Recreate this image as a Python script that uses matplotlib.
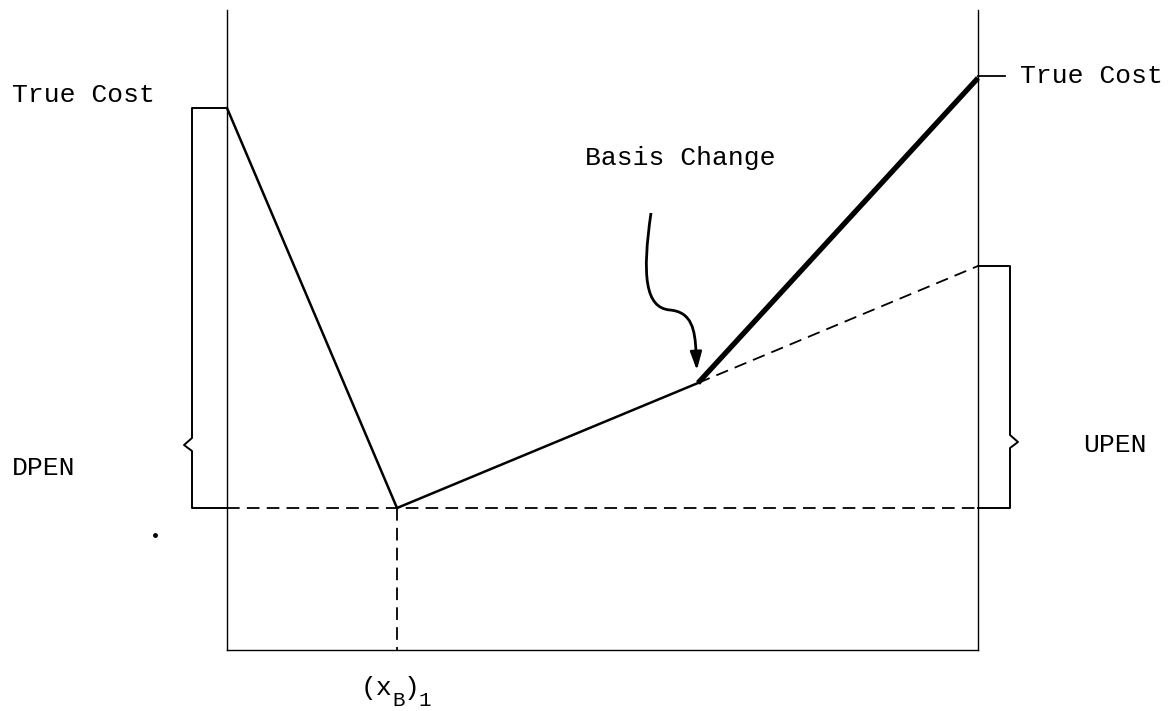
'''
Penalty diagram: true cost vs. DPEN/UPEN around (x_B)_1
'''

import numpy as np
import matplotlib.pyplot as plt
from matplotlib.path import Path
from matplotlib.patches import PathPatch

# frame (pixel-like coordinates, y grows downward)
X_LEFT, X_RIGHT = 227, 978
Y_TOP, Y_BASE, Y_BOTTOM = 10, 508, 650
X_MIN = 397  # (x_B)_1

# cost curve
cost_x = np.array([227, 397, 698])
cost_y = np.array([108, 508, 383])
steep_x = np.array([698, 978])
steep_y = np.array([383, 78])
penal_x = np.array([698, 978])
penal_y = np.array([383, 266])

# braces: (x, top, bottom, notch_y, notch_dir)
left_brace = (192, 108, 508, 445, -1)
right_brace = (1010, 266, 508, 442, 1)

# arrow curve control points
arrow_pts = [(651, 213), (642, 275), (645, 308), (670, 310),
             (692, 312), (695, 330), (696, 352)]
arrow_tip = (697, 373)

mono = 'Liberation Mono'
fs = 19

fig = plt.figure(figsize=(11.68, 7.11), dpi=100)
ax = fig.add_axes([0, 0, 1, 1])
ax.set_xlim(0, 1168)
ax.set_ylim(711, 0)
ax.axis('off')

thin = dict(color='black', lw=1.0)
dash = dict(color='black', lw=1.3, dashes=(7, 4))

# frame
ax.plot([X_LEFT, X_LEFT], [Y_TOP, Y_BOTTOM], **thin)
ax.plot([X_RIGHT, X_RIGHT], [Y_TOP, Y_BOTTOM], **thin)
ax.plot([X_LEFT, X_RIGHT], [Y_BOTTOM, Y_BOTTOM], **thin)
ax.plot([X_LEFT, X_RIGHT], [Y_BASE, Y_BASE], **dash)
ax.plot([X_MIN, X_MIN], [Y_BASE, Y_BOTTOM], **dash)

# cost lines
ax.plot(cost_x, cost_y, color='black', lw=1.8, solid_joinstyle='miter')
ax.plot(steep_x, steep_y, color='black', lw=3.8, solid_capstyle='butt')
ax.plot(penal_x, penal_y, **dash)
ax.plot([X_RIGHT, 1005], [76, 76], color='black', lw=1.3)

# braces
for bx, top, bot, ny, d in (left_brace, right_brace):
    edge = X_LEFT if d < 0 else X_RIGHT
    ax.plot([edge, bx, bx, bx + 8 * d, bx, bx, edge],
            [top, top, ny - 7, ny, ny + 6, bot, bot],
            color='black', lw=1.4)

# wavy arrow
codes = [Path.MOVETO] + [Path.CURVE4] * 6
ax.add_patch(PathPatch(Path(arrow_pts, codes), fill=False, lw=2.0, color='black'))
ax.annotate('', xy=arrow_tip, xytext=arrow_pts[-1],
            arrowprops=dict(arrowstyle='-|>,head_length=1.1,head_width=0.35',
                            color='black', lw=1.8))

# labels
ax.text(12, 95, 'True Cost', family=mono, fontsize=fs, va='center')
ax.text(1020, 76, 'True Cost', family=mono, fontsize=fs, va='center')
ax.text(585, 158, 'Basis Change', family=mono, fontsize=fs, va='center')
ax.text(12, 468, 'DPEN', family=mono, fontsize=fs, va='center')
ax.text(1083, 445, 'UPEN', family=mono, fontsize=fs, va='center')
ax.text(361, 688, '(x', family=mono, fontsize=fs, va='center')
ax.text(392, 700, 'B', family=mono, fontsize=15, va='center')
ax.text(404, 688, ')', family=mono, fontsize=fs, va='center')
ax.text(418, 700, '1', family=mono, fontsize=15, va='center')
ax.plot([155], [535], marker='o', ms=2.5, color='black')

plt.savefig('out.png', dpi=100)
